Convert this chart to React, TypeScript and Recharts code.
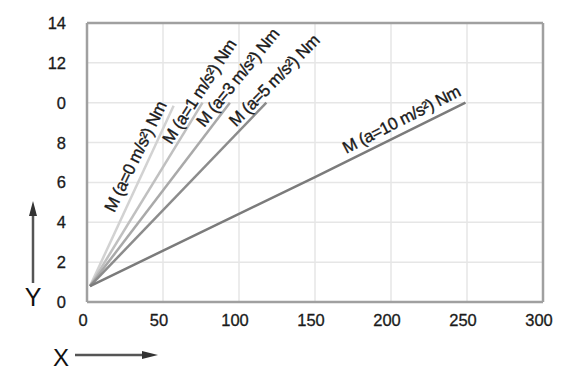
import React from 'react';
import { LineChart, Line, XAxis, YAxis, CartesianGrid, ReferenceLine, Customized } from 'recharts';

const xTicks = [0, 50, 100, 150, 200, 250, 300];
const yTicks = [0, 2, 4, 6, 8, 10, 12, 14];
const yTickLabels = ['0', '2', '4', '6', '8', '0', '12', '14'];

const seriesNames = ['M (a=0 m/s²) Nm', 'M (a=1 m/s²) Nm', 'M (a=3 m/s²) Nm', 'M (a=5 m/s²) Nm', 'M (a=10 m/s²) Nm'];
const a0X = [2, 57];
const a0Y = [0.8, 9.85];
const a1X = [2, 76];
const a1Y = [0.8, 10];
const a3X = [2, 94];
const a3Y = [0.8, 10];
const a5X = [2, 118];
const a5Y = [0.8, 10];
const a10X = [2, 150, 249];
const a10Y = [0.8, 6.27, 10];

const toData = (xs: number[], ys: number[]) => xs.map((x, i) => ({ x, y: ys[i] }));

const seriesData = [toData(a0X, a0Y), toData(a1X, a1Y), toData(a3X, a3Y), toData(a5X, a5Y), toData(a10X, a10Y)];
const colors = ['#d2d2d2', '#c0c0c0', '#a9a9a9', '#8c8c8c', '#7b7b7b'];
// label placement relative to line end: dx, dy, rotation angle
const labelPlace = [
  { dx: -38, dy: 51, angle: -64 },
  { dx: -3, dy: -11, angle: -57 },
  { dx: 8, dy: -25, angle: -51 },
  { dx: 8, dy: -22, angle: -45.5 },
  { dx: -64, dy: 17, angle: -27 },
];

const FONT = '"Liberation Sans", Arial, Helvetica, sans-serif';

const makeLabel = (si: number) => (props: any) => {
  const { x, y, index } = props;
  if (index !== seriesData[si].length - 1) return null;
  const p = labelPlace[si];
  const cx = x + p.dx;
  const cy = y + p.dy;
  return (
    <text
      key={`lbl-${si}`}
      x={cx}
      y={cy}
      textAnchor="middle"
      dominantBaseline="central"
      transform={`rotate(${p.angle} ${cx} ${cy})`}
      fontFamily={FONT}
      fontSize={17}
      letterSpacing={-0.5}
      fill="#1a1a1a"
      stroke="#1a1a1a"
      strokeWidth={0.35}
    >
      {seriesNames[si]}
    </text>
  );
};

const XTick = (props: any) => {
  const { x, y, payload } = props;
  return (
    <text x={x - 4} y={y} dy="0.71em" textAnchor="middle" fontFamily={FONT} fontSize={16.5} fill="#1a1a1a" stroke="#1a1a1a" strokeWidth={0.3}>
      {payload.value}
    </text>
  );
};

const YTick = (props: any) => {
  const { x, y, payload } = props;
  const idx = yTicks.indexOf(payload.value);
  return (
    <text x={x} y={y} dy="0.36em" textAnchor="end" fontFamily={FONT} fontSize={16.5} fill="#1a1a1a" stroke="#1a1a1a" strokeWidth={0.3}>
      {yTickLabels[idx]}
    </text>
  );
};

const Arrows = () => (
  <g>
    <line x1={33} y1={283} x2={33} y2={212} stroke="#555" strokeWidth={2.5} />
    <polygon points="33,201 29,216 37,216" fill="#333" />
    <text x={33} y={297} textAnchor="middle" dominantBaseline="central" fontFamily={FONT} fontSize={25} fill="#111">Y</text>
    <text x={61} y={357} textAnchor="middle" dominantBaseline="central" fontFamily={FONT} fontSize={24} fill="#111">X</text>
    <line x1={75} y1={355} x2={146} y2={355} stroke="#555" strokeWidth={2.5} />
    <polygon points="158,355 142,351 142,359" fill="#333" />
  </g>
);

export default function App() {
  return (
    <div style={{ position: 'absolute', left: 0, top: 0, background: '#fff' }}>
      <LineChart width={570} height={373} margin={{ top: 23, right: 27, left: 27, bottom: 41 }}>
        <CartesianGrid stroke="#e6e6e6" strokeWidth={1.5} />
        <XAxis
          type="number"
          dataKey="x"
          domain={[0, 300]}
          ticks={xTicks}
          height={30}
          tickSize={0}
          tickMargin={12}
          tick={<XTick />}
          axisLine={{ stroke: '#a0a0a0', strokeWidth: 2.5 }}
          tickLine={false}
          allowDuplicatedCategory={false}
        />
        <YAxis
          type="number"
          dataKey="y"
          domain={[0, 14]}
          ticks={yTicks}
          width={60}
          tickSize={0}
          tickMargin={21}
          tick={<YTick />}
          axisLine={{ stroke: '#a0a0a0', strokeWidth: 2.5 }}
          tickLine={false}
        />
        <ReferenceLine y={14} stroke="#a0a0a0" strokeWidth={2.5} />
        <ReferenceLine x={300} stroke="#a0a0a0" strokeWidth={2.5} />
        {seriesData.map((d, i) => (
          <Line
            key={i}
            data={d}
            dataKey="y"
            type="linear"
            stroke={colors[i]}
            strokeWidth={2.5}
            dot={false}
            activeDot={false}
            isAnimationActive={false}
            label={makeLabel(i)}
          />
        ))}
        <Customized component={Arrows} />
      </LineChart>
    </div>
  );
}
